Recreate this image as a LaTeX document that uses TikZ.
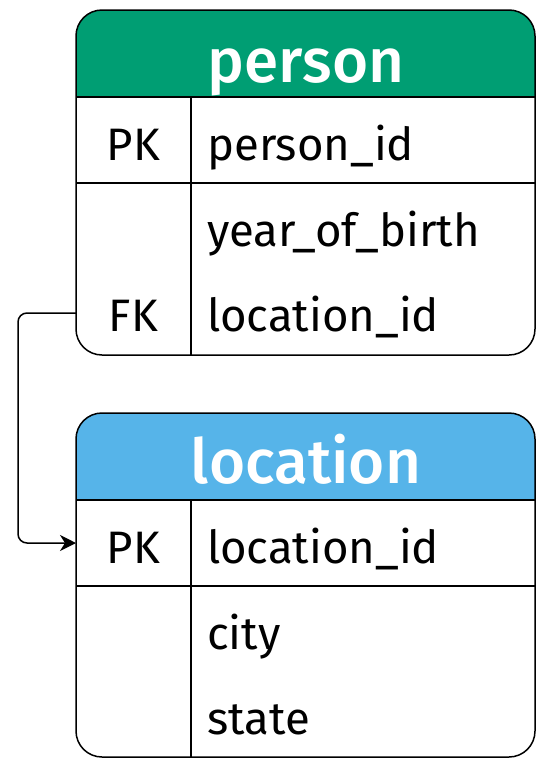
\documentclass[tikz,border=0pt]{standalone}
\usepackage{fontspec}
\setmainfont{Fira Sans}
\newfontfamily\hdrfont{Fira Sans Medium}
\usetikzlibrary{arrows.meta}
\definecolor{pgreen}{HTML}{009E73}
\definecolor{lblue}{HTML}{56B4E9}
\tikzset{
  tbl/.style={line width=1.5pt, rounded corners=26pt},
  hdrfill/.style={rounded corners=26pt},
  rule/.style={line width=1.5pt},
  hdr/.style={inner sep=0pt, anchor=base, text=white, font=\fontsize{62}{62}\selectfont\hdrfont},
  key/.style={inner sep=0pt, anchor=base, font=\fontsize{45.5}{45.5}\selectfont},
  fld/.style={inner sep=0pt, anchor=base west, font=\fontsize{45.5}{45.5}\selectfont},
  fklink/.style={line width=1.5pt, rounded corners=9pt, -{Stealth[length=16pt,width=16pt,inset=5pt]}}
}
\begin{document}
\begin{tikzpicture}[x=1pt,y=-1pt]
\useasboundingbox (0,0) rectangle (536,758);
% person table
\fill[pgreen, hdrfill] (76,97) -- (76,10) -- (535,10) -- (535,97);
\draw[tbl] (76,10) rectangle (535,355);
\draw[rule] (76,97) -- (535,97);
\draw[rule] (76,183) -- (535,183);
\draw[rule] (191,97) -- (191,355);
\node[hdr] (phdr) at (306,82) {person};
\node[key] (ppk) at (133.5,160) {PK};
\node[fld] (pid) at (207,160) {person\_id};
\node[fld] (pyob) at (207,246) {year\_of\_birth};
\node[key] (pfk) at (133.5,331) {FK};
\node[fld] (plid) at (207,331) {location\_id};
% location table
\fill[lblue, hdrfill] (76,500) -- (76,413) -- (535,413) -- (535,500);
\draw[tbl] (76,413) rectangle (535,757);
\draw[rule] (76,500) -- (535,500);
\draw[rule] (76,586) -- (535,586);
\draw[rule] (191,500) -- (191,757);
\node[hdr] (lhdr) at (306,483) {location};
\node[key] (lpk) at (133.5,563) {PK};
\node[fld] (llid) at (207,563) {location\_id};
\node[fld] (lcity) at (207,649) {city};
\node[fld] (lstate) at (207,734) {state};
% connector
\coordinate (fkL) at (76,313);
\coordinate (pkL) at (76,543);
\draw[fklink] (fkL) -- ++(-58,0) |- (pkL);
\end{tikzpicture}
\end{document}
